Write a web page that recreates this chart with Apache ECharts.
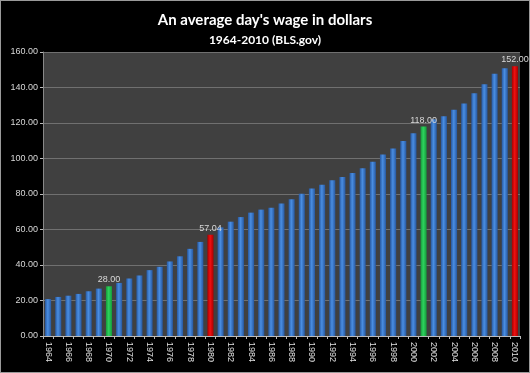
<!DOCTYPE html>
<html><head><meta charset="utf-8">
<script src="https://cdn.jsdelivr.net/npm/echarts@6/dist/echarts.min.js"></script>
<style>html,body{margin:0;padding:0;background:#000;}#c{width:530px;height:373px;box-sizing:border-box;border:1px solid #9a9a9a;}</style>
</head><body><div id="c"></div>
<script>
const years = [];
for (let y = 1964; y <= 2010; y++) years.push(String(y));
const wages = [20.8,22.0,22.7,23.7,25.2,26.7,28.00,29.9,32.4,34.1,37.1,39.0,42.0,44.9,49.1,53.0,57.04,61.2,64.4,67.0,69.5,71.2,72.2,74.6,77.1,80.1,83.1,85.2,87.7,89.6,91.9,94.5,98.1,102.3,105.7,109.8,114.2,118.00,122.1,123.8,127.4,131.0,136.8,141.9,147.7,150.8,152.00];
const greenYears = ['1970','2001'];
const redYears = ['1980','2010'];
const labelYears = ['1970','1980','2001','2010'];
const yTicks = [0,20,40,60,80,100,120,140,160];

function grad(c0, c1) {
  return new echarts.graphic.LinearGradient(0,0,1,0,[
    {offset:0,color:c0},{offset:0.45,color:c1},{offset:1,color:c0}]);
}
const blue = grad('#2758a0','#4a8ee2');
const green = grad('#159a3a','#2ed35e');
const red = grad('#a80000','#f01010');

const data = years.map((y,i)=>{
  let col = blue;
  if (greenYears.includes(y)) col = green;
  if (redYears.includes(y)) col = red;
  const d = {value: wages[i], itemStyle:{color:col}};
  if (labelYears.includes(y)) d.label = {show:true, position:'top', formatter: v=>v.value.toFixed(2), color:'#d8d8d8', fontSize:9, distance:2, fontFamily:'Liberation Sans'};
  return d;
});

const chart = echarts.init(document.getElementById('c'));
chart.setOption({
  backgroundColor:'#000',
  animation:false,
  title:{text:"An average day's wage in dollars", subtext:'1964-2010 (BLS.gov)', left:'center', top:7, itemGap:6,
    textStyle:{color:'#fff', fontSize:15, fontWeight:'bold', fontFamily:'Lato'},
    subtextStyle:{color:'#fff', fontSize:12, fontWeight:'bold', fontFamily:'Lato'}},
  grid:{left:42, right:9, top:51, bottom:36, show:true, backgroundColor:'#404040', borderWidth:0},
  xAxis:{type:'category', data:years, boundaryGap:true,
    axisLine:{lineStyle:{color:'#bbb'}},
    axisTick:{show:true, length:3, lineStyle:{color:'#bbb'}, interval:0},
    axisLabel:{interval:1, rotate:-90, color:'#e0e0e0', fontSize:9, fontFamily:'Liberation Sans', margin:6}},
  yAxis:{type:'value', min:yTicks[0], max:yTicks[yTicks.length-1], interval:20,
    axisLine:{show:true, lineStyle:{color:'#888'}},
    axisTick:{show:true, length:3, lineStyle:{color:'#bbb'}},
    splitLine:{lineStyle:{color:'#707070', width:1}},
    axisLabel:{formatter:v=>v.toFixed(2), color:'#d8d8d8', fontSize:9, fontFamily:'Liberation Sans', margin:5}},
  series:[{type:'bar', data:data, barWidth:'60%'}]
});
</script></body></html>
